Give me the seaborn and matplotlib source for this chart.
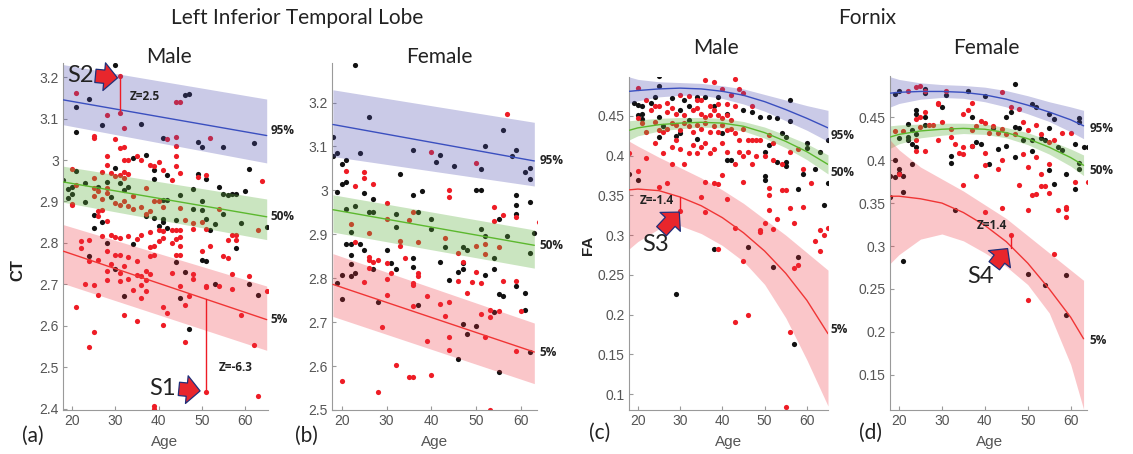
import matplotlib
matplotlib.use('Agg')

import matplotlib.pyplot as plt
import seaborn as sns
import numpy as np

sns.set_style('white')
plt.rcParams['font.family'] = ['Liberation Sans', 'DejaVu Sans']

# ---------------- panel (a): cortical thickness, male ----------------
A_BLK_AGE = [30, 24, 21, 21, 27, 36, 46, 47, 41, 50, 49, 55, 62, 61, 30, 34, 37, 39, 39, 42,
             18, 19, 21, 20, 20, 19, 23, 23, 25, 25, 26, 27, 28, 28, 29, 31, 32, 33, 34, 37,
             39, 40, 41, 41, 42, 41, 42, 44, 45, 48, 49, 51, 54, 55, 56, 57, 58, 60, 48, 50,
             50, 51, 52, 55, 53, 59, 58, 65, 30, 32, 24, 46, 44, 50, 51, 53, 61, 63, 45, 47]
A_BLK_CT = [3.228, 3.147, 3.128, 3.067, 3.085, 3.087, 3.158, 3.16, 3.054, 3.032,
            3.043, 3.031, 3.042, 2.978, 2.98, 3.005, 3.013, 2.975, 2.953, 2.965,
            2.952, 2.93, 2.973, 2.935, 2.918, 2.908, 2.945, 2.898, 2.867, 2.835,
            2.934, 2.85, 2.948, 2.8, 2.91, 2.945, 2.928, 2.934, 2.798, 2.865,
            2.86, 2.84, 2.857, 2.85, 2.836, 2.903, 2.903, 2.856, 2.915, 2.93,
            2.967, 2.953, 2.934, 2.918, 2.915, 2.918, 2.918, 2.925, 2.882, 2.9,
            2.88, 2.857, 2.83, 2.87, 2.845, 2.847, 2.788, 2.838, 2.737, 2.672,
            2.768, 2.73, 2.753, 2.76, 2.756, 2.7, 2.7, 2.675, 2.667, 2.593]
A_RED_AGE = [21, 31, 31, 28, 44, 45, 25, 25, 30, 32, 42, 44, 44, 52, 51, 49, 32, 31, 35, 33,
             32, 36, 28, 28, 27, 29, 30, 31, 32, 33, 32, 38, 39, 40, 41, 43, 44, 44, 45, 20,
             20, 20, 21, 25, 25, 25, 26, 27, 28, 28, 30, 31, 32, 33, 34, 34, 36, 37, 37, 38,
             39, 40, 41, 45, 26, 26, 27, 27, 28, 29, 30, 31, 33, 35, 36, 38, 38, 39, 40, 41,
             40, 41, 43, 44, 45, 45, 45, 43, 44, 45, 44, 43, 46, 48, 48, 50, 50, 51, 52, 54,
             56, 57, 58, 58, 55, 56, 57, 51, 51, 54, 57, 61, 63, 64, 65, 59, 62, 63, 51, 39,
             39, 22, 22, 24, 24, 26, 23, 25, 26, 21, 28, 28, 28, 29, 30, 31, 31, 31, 32, 33,
             33, 34, 35, 35, 36, 36, 37, 37, 38, 38, 39, 37, 36, 32, 35, 41, 42, 41, 47, 46,
             46, 24, 25, 48, 48, 45]
A_RED_CT = [3.161, 3.203, 3.113, 3.109, 3.141, 3.139, 3.057, 3.053, 3.051, 3.077,
            3.05, 3.055, 3.033, 3.052, 2.965, 2.958, 3.031, 3.028, 3.009, 3.001,
            3.001, 3.0, 3.009, 2.987, 2.972, 2.969, 2.961, 2.963, 2.971, 2.967,
            2.957, 2.987, 2.985, 2.994, 2.977, 2.952, 3.009, 2.985, 2.969, 2.978,
            2.895, 2.892, 2.94, 2.957, 2.933, 2.912, 2.925, 2.906, 2.933, 2.92,
            2.896, 2.892, 2.9, 2.89, 2.912, 2.882, 2.887, 2.933, 2.87, 2.878,
            2.902, 2.9, 2.886, 2.884, 2.878, 2.866, 2.88, 2.816, 2.854, 2.82,
            2.814, 2.813, 2.817, 2.81, 2.82, 2.826, 2.79, 2.793, 2.804, 2.812,
            2.832, 2.828, 2.832, 2.832, 2.832, 2.814, 2.792, 2.8, 2.81, 2.77,
            2.77, 2.728, 2.855, 2.847, 2.834, 2.78, 2.85, 2.834, 2.792, 2.882,
            2.808, 2.818, 2.82, 2.807, 2.768, 2.764, 2.724, 2.697, 2.694, 2.697,
            2.689, 2.72, 2.832, 2.949, 2.683, 2.625, 2.553, 2.43, 2.44, 2.406,
            2.4, 2.804, 2.788, 2.808, 2.756, 2.76, 2.7, 2.698, 2.675, 2.645,
            2.78, 2.732, 2.71, 2.75, 2.772, 2.77, 2.728, 2.708, 2.744, 2.767,
            2.712, 2.686, 2.756, 2.722, 2.721, 2.698, 2.732, 2.71, 2.725, 2.768,
            2.77, 2.684, 2.667, 2.627, 2.611, 2.645, 2.632, 2.603, 2.672, 2.65,
            2.56, 2.548, 2.585, 2.725, 2.712, 2.697]
A_CURVE_AGE = [18, 65]
A_P95 = [3.145, 3.059]
A_P95_HI = [3.230, 3.147]
A_P95_LO = [3.085, 2.993]
A_P50 = [2.947, 2.863]
A_P50_HI = [2.985, 2.906]
A_P50_LO = [2.898, 2.808]
A_P05 = [2.780, 2.615]
A_P05_HI = [2.844, 2.696]
A_P05_LO = [2.702, 2.541]

# ---------------- panel (b): cortical thickness, female ----------------
B_BLK_AGE = [23, 18, 18, 19, 19, 24, 26, 20, 21, 20, 21, 25, 27, 33, 36, 38, 37, 36, 41, 42,
             45, 52, 51, 50, 51, 56, 58, 59, 61, 62, 62, 62, 21, 23, 22, 26, 27, 32, 32, 40,
             40, 51, 52, 55, 57, 59, 59, 59, 62, 63, 21, 22, 22, 22, 24, 25, 22, 23, 20, 19,
             20, 27, 28, 30, 31, 32, 36, 36, 37, 42, 43, 44, 46, 47, 47, 48, 47, 52, 54, 54,
             55, 56, 59, 61, 61, 54, 47, 48, 50, 46, 55, 62]
B_BLK_CT = [3.286, 3.122, 3.079, 3.086, 2.996, 3.084, 3.166, 3.06, 3.069, 3.015,
            3.019, 2.995, 2.98, 3.037, 2.989, 2.998, 2.951, 3.092, 3.065, 3.08,
            3.055, 3.1, 3.048, 3.0, 3.0, 3.138, 3.078, 3.092, 3.041, 3.051,
            3.027, 2.973, 2.958, 2.965, 2.906, 2.951, 2.95, 2.946, 2.917, 2.935,
            2.911, 2.913, 2.897, 2.934, 2.897, 2.99, 2.967, 2.946, 2.857, 2.904,
            2.879, 2.879, 2.853, 2.832, 2.879, 2.864, 2.805, 2.813, 2.807, 2.788,
            2.752, 2.822, 2.745, 2.864, 2.834, 2.822, 2.845, 2.826, 2.739, 2.837,
            2.87, 2.796, 2.815, 2.82, 2.872, 2.864, 2.834, 2.807, 2.82, 2.845,
            2.763, 2.76, 2.782, 2.766, 2.728, 2.722, 2.695, 2.673, 2.692, 2.616,
            2.587, 2.631]
B_RED_AGE = [21, 25, 25, 23, 27, 30, 26, 22, 23, 25, 26, 26, 26, 27, 28, 30, 30, 30, 31, 30,
             29, 33, 33, 34, 35, 36, 36, 36, 37, 37, 37, 36, 39, 40, 44, 44, 43, 42, 43, 44,
             44, 44, 39, 46, 47, 46, 48, 49, 50, 50, 50, 51, 52, 52, 52, 51, 53, 53, 54, 54,
             56, 55, 56, 55, 57, 59, 59, 59, 60, 64, 53, 20, 28, 32, 35, 36, 40]
B_RED_CT = [3.045, 3.042, 3.029, 3.011, 3.015, 2.972, 2.904, 2.923, 2.882, 2.792,
            2.848, 2.841, 2.824, 2.838, 2.841, 2.934, 2.834, 2.799, 2.813, 2.762,
            2.688, 2.885, 2.874, 2.845, 2.932, 2.951, 2.79, 2.784, 2.883, 2.813,
            2.804, 2.737, 2.76, 3.088, 3.001, 2.984, 2.892, 2.741, 2.714, 2.747,
            2.666, 2.637, 2.658, 2.858, 2.838, 2.793, 2.767, 2.792, 2.873, 2.815,
            3.063, 2.788, 2.879, 2.855, 2.666, 2.718, 2.728, 2.712, 2.963, 2.93,
            2.944, 2.871, 2.794, 2.725, 3.173, 2.94, 2.794, 2.634, 2.726, 2.928,
            2.5, 2.566, 2.54, 2.602, 2.576, 2.574, 2.58]
B_CURVE_AGE = [18, 63]
B_P95 = [3.150, 3.067]
B_P95_HI = [3.229, 3.155]
B_P95_LO = [3.077, 3.010]
B_P50 = [2.956, 2.875]
B_P50_HI = [2.990, 2.910]
B_P50_LO = [2.905, 2.823]
B_P05 = [2.786, 2.632]
B_P05_HI = [2.856, 2.698]
B_P05_LO = [2.713, 2.560]

# ---------------- panel (c): fornix FA, male ----------------
C_BLK_AGE = [18, 20, 25, 25, 19, 20, 21, 20, 21, 21, 23, 24, 25, 25, 26, 28, 29, 30, 31, 32,
             30, 32, 34, 34, 36, 39, 38, 41, 40, 41, 42, 45, 47, 49, 50, 50, 50, 51, 53, 54,
             55, 56, 56, 55, 55, 51, 53, 60, 60, 62, 63, 59, 58, 64, 65, 65, 29, 38, 46, 52,
             58, 57]
C_BLK_FA = [0.377, 0.369, 0.5, 0.488, 0.466, 0.464, 0.462, 0.451, 0.453, 0.446,
            0.466, 0.474, 0.449, 0.423, 0.437, 0.472, 0.425, 0.458, 0.47, 0.463,
            0.428, 0.445, 0.474, 0.421, 0.474, 0.474, 0.463, 0.453, 0.428, 0.395,
            0.395, 0.458, 0.455, 0.449, 0.405, 0.374, 0.369, 0.449, 0.447, 0.428,
            0.424, 0.47, 0.444, 0.392, 0.387, 0.413, 0.392, 0.416, 0.41, 0.383,
            0.405, 0.377, 0.358, 0.338, 0.366, 0.42, 0.226, 0.282, 0.285, 0.26,
            0.272, 0.163]
C_RED_AGE = [20, 36, 38, 43, 40, 44, 45, 42, 30, 32, 34, 35, 37, 39, 41, 43, 47, 22, 23, 24,
             25, 27, 27, 28, 29, 31, 33, 34, 35, 36, 37, 38, 39, 40, 41, 42, 20, 21, 22, 24,
             25, 26, 27, 28, 29, 30, 31, 32, 33, 34, 35, 36, 37, 38, 39, 40, 41, 42, 43, 44,
             45, 46, 47, 48, 49, 51, 52, 22, 24, 26, 28, 28, 29, 30, 31, 32, 33, 34, 35, 36,
             37, 38, 40, 41, 43, 44, 45, 46, 47, 48, 50, 52, 54, 56, 58, 59, 59, 61, 55, 56,
             57, 54, 51, 51, 51, 52, 53, 50, 49, 49, 45, 40, 39, 38, 41, 36, 35, 36, 30, 27,
             25, 20, 18, 43, 45, 39, 58, 57, 63, 64, 65, 62, 63, 43, 46, 56, 55]
C_RED_FA = [0.485, 0.495, 0.493, 0.497, 0.484, 0.484, 0.479, 0.476, 0.476, 0.475,
            0.47, 0.47, 0.463, 0.465, 0.465, 0.463, 0.463, 0.47, 0.458, 0.463,
            0.462, 0.466, 0.455, 0.46, 0.453, 0.451, 0.458, 0.46, 0.453, 0.449,
            0.451, 0.458, 0.451, 0.447, 0.451, 0.445, 0.447, 0.441, 0.43, 0.443,
            0.432, 0.43, 0.434, 0.441, 0.439, 0.432, 0.441, 0.437, 0.43, 0.439,
            0.434, 0.441, 0.43, 0.437, 0.43, 0.439, 0.432, 0.434, 0.428, 0.42,
            0.434, 0.42, 0.42, 0.42, 0.42, 0.426, 0.416, 0.397, 0.416, 0.403,
            0.411, 0.39, 0.42, 0.409, 0.39, 0.403, 0.413, 0.403, 0.411, 0.416,
            0.403, 0.409, 0.416, 0.405, 0.39, 0.405, 0.399, 0.405, 0.39, 0.4,
            0.399, 0.395, 0.39, 0.405, 0.409, 0.383, 0.336, 0.365, 0.357, 0.334,
            0.315, 0.357, 0.359, 0.35, 0.332, 0.308, 0.32, 0.315, 0.306, 0.304,
            0.367, 0.376, 0.364, 0.366, 0.345, 0.367, 0.348, 0.329, 0.33, 0.366,
            0.361, 0.381, 0.403, 0.309, 0.268, 0.282, 0.262, 0.259, 0.306, 0.3,
            0.309, 0.293, 0.28, 0.191, 0.2, 0.178, 0.084]
C_CURVE_AGE = [18, 20, 25, 30, 35, 40, 45, 50, 55, 60, 65]
C_P95 = [0.481, 0.482, 0.484, 0.485, 0.484, 0.481, 0.476, 0.468, 0.458, 0.447, 0.435]
C_P95_HI = [0.499, 0.496, 0.493, 0.492, 0.491, 0.488, 0.484, 0.477, 0.470, 0.463, 0.457]
C_P95_LO = [0.466, 0.469, 0.474, 0.476, 0.476, 0.472, 0.465, 0.456, 0.444, 0.432, 0.418]
C_P50 = [0.432, 0.435, 0.439, 0.441, 0.442, 0.441, 0.437, 0.429, 0.418, 0.405, 0.389]
C_P50_HI = [0.444, 0.445, 0.447, 0.448, 0.448, 0.447, 0.443, 0.436, 0.426, 0.415, 0.401]
C_P50_LO = [0.420, 0.425, 0.431, 0.434, 0.436, 0.435, 0.431, 0.422, 0.410, 0.395, 0.377]
C_P05 = [0.357, 0.358, 0.356, 0.348, 0.337, 0.322, 0.303, 0.280, 0.252, 0.218, 0.176]
C_P05_HI = [0.418, 0.412, 0.398, 0.385, 0.372, 0.357, 0.340, 0.320, 0.300, 0.278, 0.256]
C_P05_LO = [0.283, 0.292, 0.308, 0.312, 0.302, 0.287, 0.267, 0.238, 0.196, 0.143, 0.085]

# ---------------- panel (d): fornix FA, female ----------------
D_BLK_AGE = [19, 20, 26, 26, 31, 36, 40, 47, 51, 52, 55, 56, 62, 62, 24, 24, 26, 26, 30, 22,
             22, 22, 23, 23, 24, 24, 20, 19, 20, 18, 19, 20, 21, 21, 18, 23, 21, 32, 32, 37,
             37, 38, 39, 41, 42, 43, 45, 45, 46, 47, 47, 48, 51, 53, 55, 55, 56, 54, 58, 59,
             61, 61, 62, 62, 63, 64, 33, 50, 54, 59, 59, 49, 51, 57]
D_BLK_FA = [0.477, 0.48, 0.478, 0.483, 0.476, 0.481, 0.475, 0.489, 0.465, 0.462,
            0.454, 0.448, 0.449, 0.444, 0.458, 0.454, 0.45, 0.441, 0.462, 0.442,
            0.427, 0.423, 0.435, 0.419, 0.431, 0.415, 0.426, 0.4, 0.39, 0.382,
            0.38, 0.385, 0.381, 0.363, 0.357, 0.396, 0.282, 0.405, 0.397, 0.45,
            0.417, 0.421, 0.419, 0.395, 0.438, 0.413, 0.416, 0.45, 0.456, 0.439,
            0.404, 0.438, 0.411, 0.426, 0.438, 0.388, 0.372, 0.424, 0.412, 0.384,
            0.419, 0.366, 0.397, 0.39, 0.415, 0.415, 0.342, 0.267, 0.255, 0.266,
            0.22, 0.424, 0.423, 0.415]
D_RED_AGE = [24, 25, 26, 31, 22, 29, 29, 37, 36, 35, 44, 46, 48, 26, 25, 24, 25, 27, 28, 30,
             32, 37, 38, 39, 40, 41, 42, 43, 44, 45, 47, 49, 50, 52, 53, 55, 56, 58, 21, 24,
             24, 26, 29, 32, 33, 35, 34, 35, 37, 40, 40, 43, 44, 49, 50, 52, 53, 55, 52, 51,
             48, 53, 54, 55, 57, 59, 59, 59, 61, 64, 35, 38, 50, 40, 44, 46, 56, 50, 20, 19,
             60]
D_RED_FA = [0.485, 0.486, 0.481, 0.481, 0.48, 0.467, 0.465, 0.467, 0.458, 0.454,
            0.479, 0.462, 0.46, 0.456, 0.45, 0.448, 0.439, 0.441, 0.441, 0.445,
            0.436, 0.435, 0.44, 0.446, 0.443, 0.432, 0.44, 0.432, 0.436, 0.431,
            0.431, 0.445, 0.435, 0.441, 0.431, 0.421, 0.423, 0.432, 0.434, 0.423,
            0.411, 0.411, 0.424, 0.427, 0.419, 0.415, 0.408, 0.407, 0.416, 0.408,
            0.394, 0.39, 0.4, 0.407, 0.392, 0.404, 0.384, 0.396, 0.361, 0.359,
            0.371, 0.37, 0.37, 0.362, 0.342, 0.346, 0.343, 0.334, 0.375, 0.375,
            0.371, 0.382, 0.342, 0.34, 0.344, 0.313, 0.291, 0.237, 0.384, 0.434,
            0.432]
D_CURVE_AGE = [18, 20, 25, 30, 35, 40, 45, 50, 55, 60, 63]
D_P95 = [0.478, 0.479, 0.480, 0.480, 0.479, 0.476, 0.471, 0.464, 0.456, 0.447, 0.440]
D_P95_HI = [0.497, 0.494, 0.490, 0.488, 0.487, 0.485, 0.481, 0.475, 0.468, 0.462, 0.458]
D_P95_LO = [0.462, 0.466, 0.471, 0.473, 0.472, 0.468, 0.462, 0.454, 0.445, 0.433, 0.425]
D_P50 = [0.427, 0.430, 0.434, 0.436, 0.437, 0.436, 0.432, 0.425, 0.415, 0.403, 0.394]
D_P50_HI = [0.440, 0.441, 0.442, 0.443, 0.443, 0.442, 0.438, 0.432, 0.423, 0.413, 0.406]
D_P50_LO = [0.414, 0.419, 0.426, 0.429, 0.431, 0.430, 0.426, 0.418, 0.407, 0.393, 0.382]
D_P05 = [0.358, 0.358, 0.355, 0.350, 0.339, 0.324, 0.305, 0.280, 0.250, 0.217, 0.192]
D_P05_HI = [0.423, 0.412, 0.392, 0.378, 0.364, 0.348, 0.332, 0.312, 0.292, 0.272, 0.260]
D_P05_LO = [0.280, 0.290, 0.308, 0.314, 0.306, 0.292, 0.276, 0.255, 0.222, 0.162, 0.110]

PCT_LABELS = ['95%', '50%', '5%']

RED = '#ee1c25'
BLACK = '#111111'
BAND_FILL = ['#5050b0', '#60b040', '#ee3340']
BAND_ALPHA = [0.30, 0.33, 0.28]
LINE_COL = ['#3a4fbf', '#5cb82e', '#f03535']

TITLE_FONT = ['Lato', 'DejaVu Sans']
BOLD_FONT = ['Open Sans', 'DejaVu Sans']


def draw_panel(ax, blk, red, curve_age, bands, xlim, ylim, yticks, lab_dy):
    sns.scatterplot(x=blk[0], y=blk[1], color=BLACK, s=14, linewidth=0, ax=ax, zorder=2)
    sns.scatterplot(x=red[0], y=red[1], color=RED, s=14, linewidth=0, ax=ax, zorder=2)
    for i, (mid, hi, lo) in enumerate(bands):
        ax.fill_between(curve_age, lo, hi, color=BAND_FILL[i], alpha=BAND_ALPHA[i],
                        linewidth=0, zorder=3)
        sns.lineplot(x=curve_age, y=mid, color=LINE_COL[i], linewidth=1, ax=ax, zorder=4)
        ax.text(xlim[1] + 0.6, mid[-1] + lab_dy[i], PCT_LABELS[i], fontsize=8.5,
                fontweight='bold', color='#222222', ha='left', va='center',
                family=BOLD_FONT, clip_on=False)
    ax.set_xlim(*xlim)
    ax.set_ylim(*ylim)
    ax.set_xticks([20, 30, 40, 50, 60])
    ax.set_yticks(yticks)
    ax.yaxis.set_major_formatter(plt.FuncFormatter(lambda v, p: '%g' % round(v, 3)))
    for side in ['top', 'right']:
        ax.spines[side].set_visible(False)
    for side in ['left', 'bottom']:
        ax.spines[side].set_color('#9a9a9a')
        ax.spines[side].set_linewidth(0.8)
    ax.tick_params(bottom=True, left=True, direction='in', length=3, width=0.8,
                   color='#9a9a9a', labelcolor='#555555', labelsize=10, pad=3)


def block_arrow(ax, tail, head):
    ax.annotate('', xy=head, xytext=tail, annotation_clip=False,
                arrowprops=dict(arrowstyle='simple,head_length=0.6,head_width=1.25,tail_width=0.6',
                                mutation_scale=16, fc='#e8262c', ec='#1f2f7a', lw=0.9,
                                shrinkA=0, shrinkB=0), zorder=6)


def z_mark(ax, age, y0, y1, text, tx, ty):
    ax.plot([age, age], [y0, y1], color=RED, lw=1, zorder=5)
    ax.text(tx, ty, text, fontsize=8.5, fontweight='bold', color='#222222',
            family=BOLD_FONT, ha='left', va='center', zorder=6)


W, H = 1133, 454
fig = plt.figure(figsize=(W / 100, H / 100), dpi=100)


def ax_at(l, r, t, b):
    return fig.add_axes([l / W, 1 - b / H, (r - l) / W, (b - t) / H])


ax_a = ax_at(63, 268, 63, 410)
ax_b = ax_at(332, 537, 63, 410)
ax_c = ax_at(629, 828, 77, 410)
ax_d = ax_at(890, 1087, 76, 410)

draw_panel(ax_a, (A_BLK_AGE, A_BLK_CT), (A_RED_AGE, A_RED_CT), A_CURVE_AGE,
           [(A_P95, A_P95_HI, A_P95_LO), (A_P50, A_P50_HI, A_P50_LO), (A_P05, A_P05_HI, A_P05_LO)],
           (17.9, 65.3), (2.397, 3.234), np.arange(2.4, 3.21, 0.1), [0.012, 0.0, 0.0])
draw_panel(ax_b, (B_BLK_AGE, B_BLK_CT), (B_RED_AGE, B_RED_CT), B_CURVE_AGE,
           [(B_P95, B_P95_HI, B_P95_LO), (B_P50, B_P50_HI, B_P50_LO), (B_P05, B_P05_HI, B_P05_LO)],
           (17.8, 63.6), (2.5, 3.29), np.arange(2.5, 3.21, 0.1), [0.0, 0.0, 0.0])
draw_panel(ax_c, (C_BLK_AGE, C_BLK_FA), (C_RED_AGE, C_RED_FA), C_CURVE_AGE,
           [(C_P95, C_P95_HI, C_P95_LO), (C_P50, C_P50_HI, C_P50_LO), (C_P05, C_P05_HI, C_P05_LO)],
           (17.9, 65.0), (0.08, 0.499), np.arange(0.1, 0.451, 0.05), [-0.009, -0.01, 0.005])
draw_panel(ax_d, (D_BLK_AGE, D_BLK_FA), (D_RED_AGE, D_RED_FA), D_CURVE_AGE,
           [(D_P95, D_P95_HI, D_P95_LO), (D_P50, D_P50_HI, D_P50_LO), (D_P05, D_P05_HI, D_P05_LO)],
           (17.9, 63.8), (0.109, 0.498), np.arange(0.15, 0.451, 0.05), [-0.003, -0.006, -0.002])

# highlighted subjects
z_mark(ax_a, 31, 3.203, 3.12, 'Z=2.5', 33.3, 3.152)
block_arrow(ax_a, (25.4, 3.203), (30.5, 3.198))
ax_a.text(18.8, 3.205, 'S2', fontsize=17, family=TITLE_FONT, color='#222222', va='center')
z_mark(ax_a, 51, 2.44, 2.665, 'Z=-6.3', 53.8, 2.5)
block_arrow(ax_a, (44.7, 2.448), (49.6, 2.443))
ax_a.text(37.8, 2.45, 'S1', fontsize=17, family=TITLE_FONT, color='#222222', va='center')
z_mark(ax_c, 30, 0.348, 0.33, 'Z=-1.4', 20.5, 0.343)
block_arrow(ax_c, (25.6, 0.305), (29.8, 0.329))
ax_c.text(21.0, 0.288, 'S3', fontsize=17, family=TITLE_FONT, color='#222222', va='center')
z_mark(ax_d, 46, 0.313, 0.298, 'Z=1.4', 38.2, 0.324)
block_arrow(ax_d, (42.2, 0.277), (45.3, 0.297))
ax_d.text(36.0, 0.264, 'S4', fontsize=17, family=TITLE_FONT, color='#222222', va='center')

# titles and labels
fig.text(297 / W, 1 - 18 / H, 'Left Inferior Temporal Lobe', fontsize=15, family=TITLE_FONT,
         color='#222222', ha='center', va='center')
fig.text(867 / W, 1 - 18 / H, 'Fornix', fontsize=15, family=TITLE_FONT,
         color='#222222', ha='center', va='center')
for x, y, t in [(169, 57, 'Male'), (439, 57, 'Female'), (716, 48, 'Male'), (986, 48, 'Female')]:
    fig.text(x / W, 1 - y / H, t, fontsize=15, family=TITLE_FONT, color='#222222',
             ha='center', va='center')
for x, y, t in [(165, 442, 'Age'), (435, 442, 'Age'), (729, 442, 'Age'), (990, 442, 'Age')]:
    fig.text(x / W, 1 - y / H, t, fontsize=11, color='#555555', ha='center', va='center')
for x, y, t in [(33, 436, '(a)'), (306, 436, '(b)'), (600, 433, '(c)'), (871, 433, '(d)')]:
    fig.text(x / W, 1 - y / H, t, fontsize=15, family=TITLE_FONT, color='#222222',
             ha='center', va='center')
fig.text(18 / W, 1 - 270 / H, 'CT', fontsize=12, fontweight='bold', rotation=90,
         color='#222222', ha='center', va='center')
fig.text(588 / W, 1 - 245 / H, 'FA', fontsize=11, fontweight='bold', rotation=90,
         color='#222222', ha='center', va='center')

fig.savefig('out.png', dpi=100, facecolor='white')
